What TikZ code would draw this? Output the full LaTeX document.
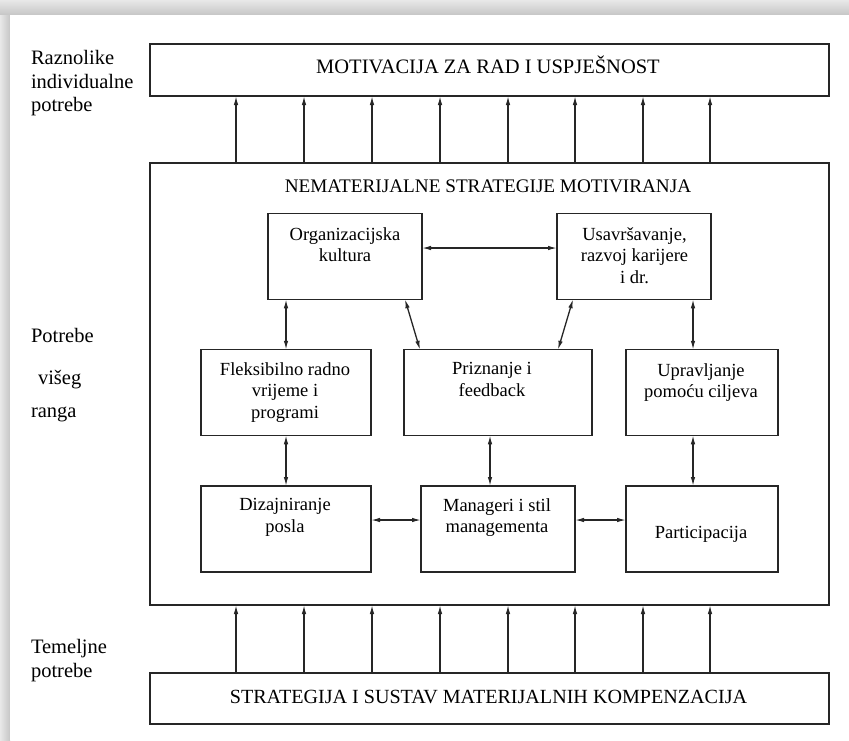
\documentclass[tikz,border=0pt]{standalone}
\usepackage{fontspec}
\setmainfont{Liberation Serif}
\usetikzlibrary{arrows.meta,calc}
\begin{document}
\begin{tikzpicture}[x=1pt,y=-1pt,
  >={Latex[length=9pt,width=4.5pt]},
  box/.style={draw=black!85,line width=1.3pt,inner sep=0,outer sep=0,fill=white},
  inbox/.style={box,minimum height=85.5},
  txt/.style={inner sep=0,outer sep=0,align=center,font=\fontsize{18.5}{21.5}\selectfont,anchor=north},
  side/.style={inner sep=0,outer sep=0,anchor=base west,font=\fontsize{20.5}{24}\selectfont},
  capt/.style={inner sep=0,outer sep=0,anchor=base},
  upar/.style={line width=1.3pt,draw=black!85,->},
  biar/.style={line width=1.3pt,draw=black!85,<->}]
% background with shadow
\useasboundingbox (0,0) rectangle (849,740);
\fill[gray!30] (0,0) rectangle (849,740);
\shade[top color=gray!18,bottom color=gray!45] (0,0) rectangle (849,15);
\shade[left color=gray!18,right color=gray!45] (0,15) rectangle (10,740);
\fill[white] (10,15) rectangle (849,740);

% main boxes
\node[box,minimum width=679,minimum height=52] (top) at (489.5,70) {};
\node[capt,font=\fontsize{20.5}{24}\selectfont] (topt) at (488,73) {MOTIVACIJA ZA RAD I USPJEŠNOST};
\node[box,minimum width=679,minimum height=442] (mid) at (489.5,384) {};
\node[capt,font=\fontsize{19.2}{23}\selectfont] (midt) at (488,192) {NEMATERIJALNE STRATEGIJE MOTIVIRANJA};
\node[box,minimum width=679,minimum height=51] (bot) at (489.5,698.5) {};
\node[capt,font=\fontsize{20.1}{24}\selectfont] (bott) at (488.5,703) {STRATEGIJA I SUSTAV MATERIJALNIH KOMPENZACIJA};

% inner boxes
\node[inbox,minimum width=154] (org) at (345,256.5) {};
\node[inbox,minimum width=154] (usav) at (634,256.5) {};
\node[inbox,minimum width=170] (fleks) at (286,392.5) {};
\node[inbox,minimum width=188] (prizn) at (498,392.5) {};
\node[inbox,minimum width=152] (uprav) at (702,392.5) {};
\node[inbox,minimum width=170,minimum height=86] (dizaj) at (286,529) {};
\node[inbox,minimum width=154,minimum height=86] (manag) at (498,529) {};
\node[inbox,minimum width=152,minimum height=86] (partic) at (702,529) {};

% inner texts
\node[txt] (orgt) at (345,227.5) {Organizacijska\\kultura};
\node[txt] (usavt) at (634.5,227.5) {Usavršavanje,\\razvoj karijere\\i dr.};
\node[txt] (flekst) at (285,362.5) {Fleksibilno radno\\vrijeme i\\programi};
\node[txt] (priznt) at (492,362.5) {Priznanje i\\feedback};
\node[txt] (upravt) at (701,363.5) {Upravljanje\\pomoću ciljeva};
\node[txt] (dizajt) at (285,498.5) {Dizajniranje\\posla};
\node[txt] (managt) at (497,498.5) {Manageri i stil\\managementa};
\node[capt,font=\fontsize{18.5}{21.5}\selectfont] (partict) at (701,538) {Participacija};

% side labels
\node[side] (s1) at (31,64) {Raznolike};
\node[side] (s2) at (31,88.5) {individualne};
\node[side] (s3) at (31,111) {potrebe};
\node[side] (s4) at (31,342) {Potrebe};
\node[side] (s5) at (38,384) {višeg};
\node[side] (s6) at (31,417) {ranga};
\node[side] (s7) at (31,653) {Temeljne};
\node[side] (s8) at (31,677) {potrebe};

% vertical arrows between main boxes
\foreach \x in {236,304,372,440,508,575,643,710} {
  \coordinate (c) at (\x,0);
  \draw[upar] (mid.north -| c) -- (top.south -| c);
  \draw[upar] (bot.north -| c) -- (mid.south -| c);
}

% inner connectors
\coordinate (a1) at (286,0);
\coordinate (a2) at (490,0);
\coordinate (a3) at (693,0);
\coordinate (h1) at (0,248);
\coordinate (h2) at (0,520);
\coordinate (d1) at (405,0);
\coordinate (d2) at (420,0);
\coordinate (d3) at (573,0);
\coordinate (d4) at (558,0);
\draw[biar] (org.south -| a1) -- (fleks.north -| a1);
\draw[biar] (fleks.south -| a1) -- (dizaj.north -| a1);
\draw[biar] (prizn.south -| a2) -- (manag.north -| a2);
\draw[biar] (usav.south -| a3) -- (uprav.north -| a3);
\draw[biar] (uprav.south -| a3) -- (partic.north -| a3);
\draw[biar] (org.east |- h1) -- (usav.west |- h1);
\draw[biar] (dizaj.east |- h2) -- (manag.west |- h2);
\draw[biar] (manag.east |- h2) -- (partic.west |- h2);
\draw[biar] (org.south -| d1) -- (prizn.north -| d2);
\draw[biar] (usav.south -| d3) -- (prizn.north -| d4);
\end{tikzpicture}
\end{document}
